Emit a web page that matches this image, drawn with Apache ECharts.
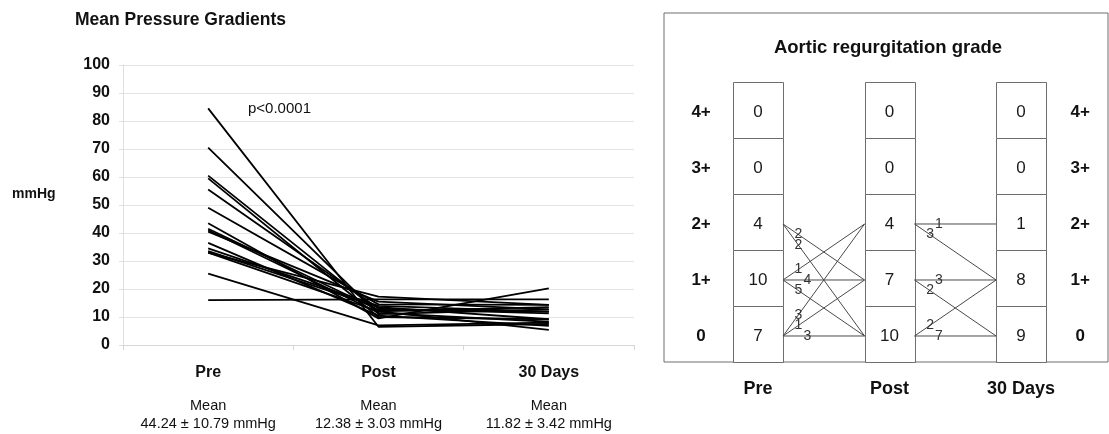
<!DOCTYPE html>
<html><head><meta charset="utf-8">
<script src="https://cdn.jsdelivr.net/npm/echarts@6/dist/echarts.min.js"></script>
<style>html,body{margin:0;padding:0;background:#fff}#c{width:1109px;height:434px}</style>
</head><body><div id="c"></div>
<script>
// ---------- Left panel data: mean pressure gradients (mmHg) per patient ----------
const stages = ['Pre', 'Post', '30 Days'];
const meanLabels = ['44.24 ± 10.79 mmHg', '12.38 ± 3.03 mmHg', '11.82 ± 3.42 mmHg'];
const preGradient   = [84.5, 70.5, 60.5, 59.5, 55.5, 49, 43.5, 41.5, 41, 40.5, 36.5, 34.5, 33.5, 33, 33, 25.5, 16];
const postGradient  = [6.5, 11, 12, 10, 13, 14.5, 9.5, 12.5, 11.5, 15.5, 10.5, 14, 13.5, 12, 17.3, 7, 16.3];
const day30Gradient = [7.5, 12.7, 13.5, 9.2, 11.3, 14.3, 20.2, 11.9, 8.3, 12.7, 6.8, 11.9, 9.2, 5.4, 14.3, 8, 16.3];
const pText = 'p<0.0001';

// ---------- Right panel data: aortic regurgitation grade ----------
const grades = ['0', '1+', '2+', '3+', '4+'];
const arPre  = [7, 10, 4, 0, 0];
const arPost = [10, 7, 4, 0, 0];
const ar30   = [9, 8, 1, 0, 0];
// [fromGrade, toGrade, patients]
const flowPrePost = [[2, 1, 2], [2, 0, 2], [1, 2, 1], [1, 1, 4], [1, 0, 5], [0, 2, 3], [0, 1, 1], [0, 0, 3]];
const flowPost30  = [[2, 2, 1], [2, 1, 3], [1, 1, 3], [1, 0, 2], [0, 1, 2], [0, 0, 7]];

const FONT = '"Liberation Sans", Arial, Helvetica, sans-serif';
const BOX_W = 0.38;

const chart = echarts.init(document.getElementById('c'), null, {renderer: 'canvas'});

const lineSeries = preGradient.map((v, i) => ({
  type: 'line', xAxisIndex: 0, yAxisIndex: 0,
  data: [v, postGradient[i], day30Gradient[i]],
  symbol: 'none', silent: true, animation: false,
  lineStyle: {color: '#000', width: 1.8}, z: 3
}));

const arCounts = [arPre, arPost, ar30];
const boxData = [];
arCounts.forEach((arr, s) => arr.forEach((n, g) => boxData.push([s, g, n])));

const flowData = [];
flowPrePost.forEach(f => flowData.push([0, f[0], f[1], f[2]]));
flowPost30.forEach(f => flowData.push([1, f[0], f[1], f[2]]));

function txt(x, y, text, size, weight, color, align) {
  return {type: 'text', x: x, y: y, style: {text: text, fill: color || '#111', fontSize: size,
    fontWeight: weight || 'normal', fontFamily: FONT, align: align || 'center', verticalAlign: 'middle'}};
}

const rightSeries = [
  {
    type: 'custom', xAxisIndex: 1, yAxisIndex: 1, data: boxData, silent: true, animation: false, z: 2,
    renderItem: function (params, api) {
      const s = api.value(0), g = api.value(1);
      const c = api.coord([s, g]);
      const sz = api.size([BOX_W, 1]);
      return {type: 'group', children: [
        {type: 'rect', shape: {x: Math.round(c[0] - sz[0] / 2) + 0.5, y: Math.round(c[1] - sz[1] / 2) + 0.5, width: Math.round(sz[0]), height: Math.round(sz[1])},
          style: {fill: '#fff', stroke: '#6e6e6e', lineWidth: 1}},
        txt(c[0], c[1] + 2, String(api.value(2)), 17, 'normal', '#1a1a1a')
      ]};
    }
  },
  {
    type: 'custom', xAxisIndex: 1, yAxisIndex: 1, data: flowData, silent: true, animation: false, z: 3,
    renderItem: function (params, api) {
      const s = api.value(0), g1 = api.value(1), g2 = api.value(2), n = api.value(3);
      const p1 = api.coord([s + BOX_W / 2, g1]);
      const p2 = api.coord([s + 1 - BOX_W / 2, g2]);
      const t = g1 === g2 ? 0.3 : 0.19;
      const lx = p1[0] + t * (p2[0] - p1[0]);
      const ly = p1[1] + t * (p2[1] - p1[1]);
      return {type: 'group', children: [
        {type: 'line', shape: {x1: p1[0], y1: p1[1] + 2, x2: p2[0], y2: p2[1] + 2}, style: {stroke: '#4a4a4a', lineWidth: 1}},
        txt(lx, ly + 2, String(n), 14, 'normal', '#333')
      ]};
    }
  },
  {
    type: 'custom', xAxisIndex: 1, yAxisIndex: 1, data: grades.map((gname, g) => [g]), silent: true, animation: false, z: 3,
    renderItem: function (params, api) {
      const g = api.value(0);
      const a = api.coord([-0.433, g]);
      const b = api.coord([2.449, g]);
      return {type: 'group', children: [
        txt(a[0], a[1] + 2, grades[g], 17, 'bold', '#111'),
        txt(b[0], b[1] + 2, grades[g], 17, 'bold', '#111')
      ]};
    }
  },
  {
    type: 'custom', xAxisIndex: 1, yAxisIndex: 1, data: stages.map((sn, s) => [s]), silent: true, animation: false, z: 3,
    renderItem: function (params, api) {
      const s = api.value(0);
      const c = api.coord([s, -0.985]);
      return txt(c[0], c[1], stages[s], 18, 'bold', '#111');
    }
  }
];

const option = {
  animation: false,
  backgroundColor: '#fff',
  textStyle: {fontFamily: FONT},
  grid: [
    {left: 123, top: 65, width: 511, height: 280, show: false},
    {left: 664, top: 13, width: 444, height: 349, show: true, borderColor: '#6e6e6e', borderWidth: 1, backgroundColor: 'transparent'}
  ],
  xAxis: [
    {type: 'category', gridIndex: 0, data: stages,
      axisLine: {lineStyle: {color: '#d6d6d6'}},
      axisTick: {show: true, length: 5, lineStyle: {color: '#d6d6d6'}},
      axisLabel: {margin: 17, interval: 0,
        formatter: function (v, i) { return '{b|' + v + '}\n{g| }\n{m|Mean}\n{m|' + meanLabels[i] + '}'; },
        rich: {
          b: {fontSize: 16, fontWeight: 'bold', color: '#111', lineHeight: 22, fontFamily: FONT},
          g: {fontSize: 10, lineHeight: 13},
          m: {fontSize: 14.5, color: '#111', lineHeight: 18, fontFamily: FONT}
        }},
      splitLine: {show: false}},
    {type: 'value', gridIndex: 1, min: -0.715, max: 2.661, show: false}
  ],
  yAxis: [
    {type: 'value', gridIndex: 0, min: 0, max: 100, interval: 10,
      axisLine: {show: true, lineStyle: {color: '#dedede'}},
      axisTick: {show: true, length: 4, lineStyle: {color: '#dedede'}},
      axisLabel: {margin: 13, fontSize: 16, fontWeight: 'bold', color: '#111', fontFamily: FONT},
      splitLine: {lineStyle: {color: '#e4e4e4'}}},
    {type: 'value', gridIndex: 1, min: -0.5, max: 5.732, show: false}
  ],
  graphic: [
    {type: 'text', left: 75, top: 11, style: {text: 'Mean Pressure Gradients', fontSize: 17.5, fontWeight: 'bold', fill: '#111', fontFamily: FONT}},
    {type: 'text', left: 12, top: 187, style: {text: 'mmHg', fontSize: 14, fontWeight: 'bold', fill: '#111', fontFamily: FONT}},
    {type: 'text', left: 248, top: 101, style: {text: pText, fontSize: 15, fill: '#111', fontFamily: FONT}},
    {type: 'text', x: 888, y: 48, style: {text: 'Aortic regurgitation grade', fontSize: 18.5, fontWeight: 'bold', fill: '#111', fontFamily: FONT, align: 'center', verticalAlign: 'middle'}}
  ],
  series: lineSeries.concat(rightSeries)
};
chart.setOption(option);
</script>
</body></html>
